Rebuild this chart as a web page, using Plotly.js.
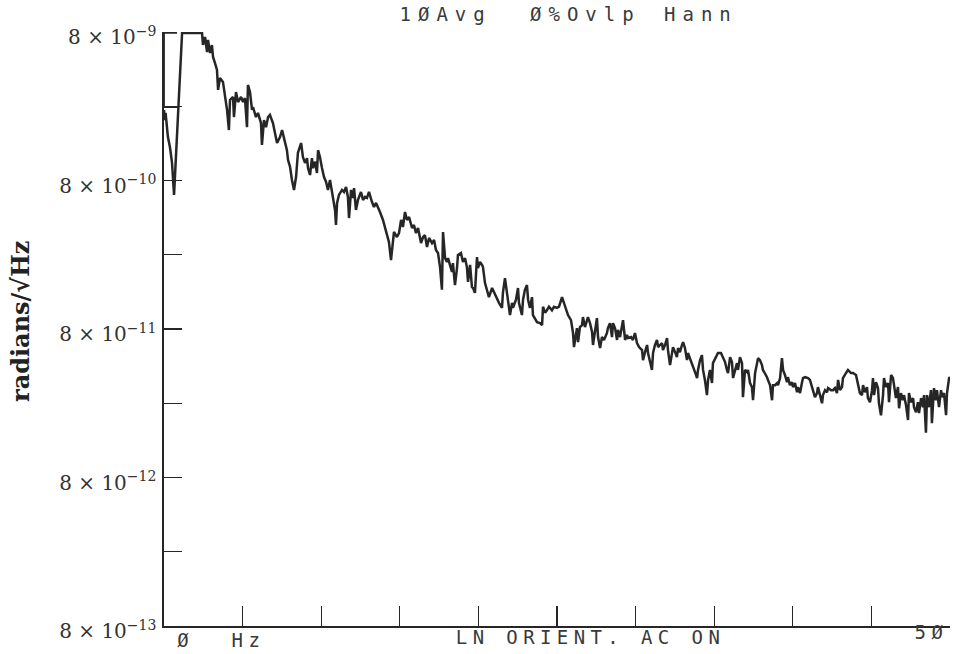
<!DOCTYPE html>
<html>
<head>
<meta charset="utf-8">
<script src="https://cdn.plot.ly/plotly-3.0.1.min.js"></script>
<style>
  html, body { margin: 0; padding: 0; background: #ffffff; }
  #chart { width: 956px; height: 654px; }
</style>
</head>
<body>
<div id="chart"></div>
<script>
// ---- data ----
// frequency, Hz
const freqHz = [
  0.00, 0.04, 0.10, 0.19, 0.25, 0.38, 0.51, 0.64, 1.15, 2.42,
  2.48, 2.61, 2.74, 2.80, 2.93, 3.05, 3.12, 3.24, 3.37, 3.44,
  3.56, 3.75, 3.88, 4.01, 4.13, 4.20, 4.39, 4.45, 4.58, 4.71,
  4.90, 5.03, 5.15, 5.28, 5.34, 5.47, 5.60, 5.66, 5.85, 5.98,
  6.17, 6.23, 6.36, 6.49, 6.62, 6.74, 6.93, 7.06, 7.19, 7.38,
  7.51, 7.63, 7.82, 7.89, 8.02, 8.14, 8.27, 8.40, 8.52, 8.72,
  8.84, 8.97, 9.10, 9.16, 9.29, 9.41, 9.48, 9.61, 9.73, 9.80,
  9.92, 10.05, 10.18, 10.31, 10.43, 10.56, 10.69, 10.75, 10.88, 10.94,
  11.01, 11.13, 11.32, 11.45, 11.58, 11.70, 11.77, 11.90, 12.02, 12.09,
  12.21, 12.34, 12.53, 12.66, 12.79, 12.91, 13.04, 13.23, 13.36, 13.49,
  13.61, 13.74, 13.93, 14.06, 14.19, 14.31, 14.44, 14.57, 14.63, 14.82,
  14.95, 15.08, 15.20, 15.33, 15.46, 15.59, 15.78, 15.90, 16.03, 16.16,
  16.35, 16.48, 16.60, 16.73, 16.86, 17.05, 17.18, 17.30, 17.43, 17.56,
  17.68, 17.75, 17.88, 18.00, 18.07, 18.19, 18.32, 18.38, 18.51, 18.64,
  18.70, 18.89, 19.02, 19.15, 19.27, 19.34, 19.47, 19.59, 19.66, 19.78,
  19.91, 19.97, 20.10, 20.23, 20.29, 20.42, 20.55, 20.67, 20.87, 20.99,
  21.18, 21.31, 21.50, 21.56, 21.69, 21.82, 21.88, 22.01, 22.14, 22.20,
  22.39, 22.52, 22.58, 22.77, 22.84, 22.96, 23.09, 23.16, 23.28, 23.41,
  23.47, 23.60, 23.73, 23.92, 24.05, 24.11, 24.24, 24.36, 24.49, 24.68,
  24.81, 25.00, 25.13, 25.32, 25.45, 25.57, 25.70, 25.89, 26.02, 26.08,
  26.27, 26.34, 26.46, 26.59, 26.65, 26.78, 26.91, 26.97, 27.10, 27.23,
  27.29, 27.42, 27.54, 27.61, 27.74, 27.86, 27.99, 28.18, 28.24, 28.37,
  28.50, 28.56, 28.69, 28.82, 28.88, 29.01, 29.13, 29.20, 29.33, 29.45,
  29.52, 29.71, 29.83, 29.96, 30.09, 30.22, 30.41, 30.47, 30.60, 30.73,
  30.79, 30.92, 31.04, 31.11, 31.23, 31.36, 31.43, 31.55, 31.68, 31.74,
  31.87, 32.00, 32.06, 32.19, 32.32, 32.38, 32.51, 32.63, 32.70, 32.82,
  32.95, 33.02, 33.14, 33.27, 33.33, 33.46, 33.65, 33.78, 33.91, 33.97,
  34.10, 34.22, 34.29, 34.41, 34.54, 34.61, 34.73, 34.86, 34.92, 35.11,
  35.24, 35.43, 35.56, 35.69, 35.81, 35.88, 36.01, 36.13, 36.20, 36.32,
  36.45, 36.51, 36.64, 36.77, 36.83, 36.96, 37.09, 37.15, 37.28, 37.40,
  37.47, 37.60, 37.72, 37.79, 37.91, 38.04, 38.10, 38.23, 38.36, 38.42,
  38.55, 38.68, 38.74, 38.87, 39.00, 39.06, 39.19, 39.31, 39.38, 39.50,
  39.63, 39.69, 39.82, 39.95, 40.01, 40.14, 40.27, 40.33, 40.46, 40.59,
  40.65, 40.78, 40.97, 41.09, 41.22, 41.28, 41.41, 41.54, 41.60, 41.73,
  41.86, 41.92, 42.05, 42.18, 42.24, 42.43, 42.56, 42.68, 42.81, 42.88,
  43.00, 43.13, 43.19, 43.38, 43.51, 43.70, 43.83, 44.02, 44.15, 44.27,
  44.40, 44.47, 44.59, 44.72, 44.78, 44.91, 45.04, 45.10, 45.17, 45.29,
  45.42, 45.48, 45.61, 45.74, 45.80, 45.93, 46.06, 46.12, 46.25, 46.37,
  46.44, 46.56, 46.69, 46.76, 46.88, 47.01, 47.07, 47.20, 47.33, 47.39,
  47.52, 47.65, 47.71, 47.84, 47.96, 48.03, 48.16, 48.28, 48.35, 48.47,
  48.54, 48.66, 48.79, 48.85, 48.98, 49.11, 49.17, 49.30, 49.43, 49.49,
  49.62, 49.75, 49.81, 49.94, 50.00
];
// spectral density, radians/sqrt(Hz)
const amplitude = [
  2.39e-9, 2.04e-9, 2.28e-9, 1.75e-9, 1.57e-9, 1.34e-9, 1.05e-9, 6.40e-10, 7.88e-9, 7.88e-9,
  6.54e-9, 7.40e-9, 5.86e-9, 7.07e-9, 5.77e-9, 6.54e-9, 5.43e-9, 4.95e-9, 4.44e-9, 3.26e-9,
  3.92e-9, 3.69e-9, 2.92e-9, 2.39e-9, 1.75e-9, 2.79e-9, 2.92e-9, 2.14e-9, 3.15e-9, 2.70e-9,
  2.92e-9, 2.70e-9, 2.87e-9, 1.83e-9, 3.52e-9, 3.15e-9, 2.39e-9, 2.50e-9, 2.14e-9, 2.28e-9,
  1.95e-9, 1.39e-9, 2.04e-9, 1.83e-9, 2.14e-9, 2.21e-9, 1.95e-9, 1.67e-9, 1.43e-9, 1.57e-9,
  1.75e-9, 1.55e-9, 1.28e-9, 1.10e-9, 9.86e-10, 8.06e-10, 6.91e-10, 8.44e-10, 1.23e-9, 1.43e-9,
  1.15e-9, 1.05e-9, 1.13e-9, 9.71e-10, 8.71e-10, 1.13e-9, 9.71e-10, 1.07e-9, 8.98e-10, 1.28e-9,
  1.15e-9, 9.71e-10, 8.44e-10, 7.82e-10, 6.91e-10, 8.06e-10, 6.70e-10, 6.20e-10, 5.07e-10, 4.01e-10,
  5.65e-10, 6.40e-10, 6.91e-10, 6.70e-10, 7.24e-10, 6.20e-10, 4.47e-10, 6.91e-10, 6.11e-10, 7.12e-10,
  5.07e-10, 5.92e-10, 6.70e-10, 5.92e-10, 6.20e-10, 6.11e-10, 6.70e-10, 5.73e-10, 5.31e-10, 5.65e-10,
  5.31e-10, 4.91e-10, 4.34e-10, 3.83e-10, 3.54e-10, 3.08e-10, 2.33e-10, 3.03e-10, 3.60e-10, 3.33e-10,
  3.54e-10, 4.34e-10, 3.89e-10, 4.91e-10, 4.34e-10, 4.54e-10, 3.83e-10, 4.01e-10, 3.54e-10, 3.83e-10,
  3.03e-10, 3.33e-10, 3.43e-10, 2.85e-10, 3.28e-10, 3.03e-10, 3.18e-10, 2.72e-10, 2.60e-10, 2.09e-10,
  1.47e-10, 3.60e-10, 2.40e-10, 2.26e-10, 2.40e-10, 2.16e-10, 1.94e-10, 2.22e-10, 1.58e-10, 2.06e-10,
  2.52e-10, 2.60e-10, 2.26e-10, 2.40e-10, 2.09e-10, 1.66e-10, 2.16e-10, 1.53e-10, 1.51e-10, 1.40e-10,
  2.44e-10, 2.06e-10, 2.26e-10, 2.16e-10, 2.09e-10, 1.63e-10, 1.42e-10, 1.31e-10, 1.51e-10, 1.42e-10,
  1.26e-10, 1.20e-10, 1.11e-10, 1.40e-10, 1.76e-10, 1.40e-10, 1.17e-10, 9.93e-11, 1.20e-10, 1.11e-10,
  1.26e-10, 1.51e-10, 1.20e-10, 9.93e-11, 1.26e-10, 1.47e-10, 1.58e-10, 1.26e-10, 1.11e-10, 1.31e-10,
  9.93e-11, 9.47e-11, 8.90e-11, 8.76e-11, 8.50e-11, 1.13e-10, 1.03e-10, 1.07e-10, 1.13e-10, 1.07e-10,
  1.13e-10, 1.11e-10, 1.13e-10, 1.31e-10, 1.20e-10, 1.07e-10, 9.93e-11, 9.18e-11, 7.52e-11, 6.04e-11,
  8.11e-11, 6.53e-11, 8.24e-11, 8.50e-11, 9.62e-11, 8.24e-11, 9.18e-11, 9.62e-11, 8.76e-11, 7.63e-11,
  6.24e-11, 8.11e-11, 9.47e-11, 7.06e-11, 5.95e-11, 7.06e-11, 6.75e-11, 7.52e-11, 8.11e-11, 8.76e-11,
  7.06e-11, 8.76e-11, 8.11e-11, 6.75e-11, 7.88e-11, 7.06e-11, 8.24e-11, 9.18e-11, 6.75e-11, 7.29e-11,
  6.96e-11, 7.06e-11, 6.75e-11, 7.52e-11, 6.43e-11, 6.04e-11, 5.77e-11, 4.94e-11, 5.59e-11, 6.24e-11,
  5.51e-11, 4.71e-11, 4.24e-11, 5.51e-11, 6.24e-11, 6.75e-11, 6.04e-11, 6.24e-11, 6.43e-11, 5.77e-11,
  6.24e-11, 6.96e-11, 5.77e-11, 4.57e-11, 5.51e-11, 6.04e-11, 5.59e-11, 5.17e-11, 5.95e-11, 5.59e-11,
  6.24e-11, 6.53e-11, 5.95e-11, 4.94e-11, 5.51e-11, 5.09e-11, 4.57e-11, 4.10e-11, 3.74e-11, 4.24e-11,
  4.94e-11, 5.34e-11, 4.24e-11, 3.63e-11, 2.87e-11, 3.63e-11, 4.24e-11, 3.46e-11, 4.71e-11, 5.17e-11,
  5.51e-11, 5.51e-11, 5.17e-11, 4.79e-11, 4.24e-11, 4.04e-11, 5.17e-11, 4.79e-11, 3.74e-11, 4.24e-11,
  4.71e-11, 4.24e-11, 5.17e-11, 4.71e-11, 2.78e-11, 4.24e-11, 4.10e-11, 4.24e-11, 3.46e-11, 3.25e-11,
  2.65e-11, 4.04e-11, 4.79e-11, 5.09e-11, 4.94e-11, 4.57e-11, 4.24e-11, 4.04e-11, 3.79e-11, 3.63e-11,
  3.35e-11, 2.65e-11, 3.35e-11, 3.35e-11, 3.46e-11, 3.35e-11, 3.74e-11, 5.09e-11, 4.24e-11, 3.92e-11,
  3.51e-11, 3.79e-11, 3.35e-11, 3.51e-11, 3.25e-11, 3.46e-11, 3.00e-11, 3.25e-11, 2.96e-11, 3.51e-11,
  3.74e-11, 3.79e-11, 3.74e-11, 3.63e-11, 3.25e-11, 3.10e-11, 2.78e-11, 2.96e-11, 3.25e-11, 2.87e-11,
  2.53e-11, 2.87e-11, 3.10e-11, 3.00e-11, 3.20e-11, 3.10e-11, 3.10e-11, 3.20e-11, 2.96e-11, 3.63e-11,
  3.10e-11, 3.25e-11, 3.74e-11, 4.04e-11, 4.24e-11, 4.04e-11, 4.04e-11, 3.92e-11, 3.46e-11, 2.96e-11,
  2.87e-11, 3.35e-11, 3.00e-11, 3.25e-11, 2.74e-11, 2.57e-11, 3.10e-11, 3.74e-11, 2.87e-11, 3.51e-11,
  3.20e-11, 2.53e-11, 2.10e-11, 2.87e-11, 3.74e-11, 3.25e-11, 3.46e-11, 2.57e-11, 3.92e-11, 3.74e-11,
  3.35e-11, 2.74e-11, 3.25e-11, 2.34e-11, 2.96e-11, 2.65e-11, 2.87e-11, 2.46e-11, 1.95e-11, 2.96e-11,
  2.57e-11, 2.74e-11, 2.38e-11, 2.20e-11, 2.57e-11, 2.17e-11, 2.74e-11, 2.38e-11, 2.87e-11, 1.60e-11,
  2.87e-11, 2.38e-11, 3.10e-11, 1.86e-11, 3.20e-11, 2.65e-11, 3.10e-11, 2.38e-11, 3.10e-11, 2.78e-11,
  2.96e-11, 2.10e-11, 2.96e-11, 3.74e-11, 3.79e-11
];
// overload box drawn by the analyzer at the start of the sweep
const boxHz  = [0.83, 0.00, 0.00, 0.89];
const boxAmp = [7.88e-9, 7.88e-9, 2.50e-9, 2.50e-9];

// axis ticks
const yMajorVals = [8e-13, 8e-12, 8e-11, 8e-10, 8e-9];
const yMajorText = ["8 × 10<sup>−13</sup>", "8 × 10<sup>−12</sup>", "8 × 10<sup>−11</sup>", "8 × 10<sup>−10</sup>", "8 × 10<sup>−9</sup>"];
const yMinorVals = [2.53e-12, 2.53e-11, 2.53e-10, 2.53e-9];
const xTickVals  = [5, 10, 15, 20, 25, 30, 35, 40, 45, 50];

// texts
const headerWords = ["1ØAvg", "Ø%Ovlp", "Hann"];
const footerLeft  = ["Ø", "Hz"];
const footerMid   = "LN ORIENT. AC ON";
const footerRight = "5Ø";
const yTitle      = "radians/√Hz";

// ---- build ----
const ink = "#262626";
const plotterFont = { family: "DejaVu Sans Mono", size: 19, color: "#3a3a3a" };

const traces = [
  { x: boxHz, y: boxAmp, type: "scatter", mode: "lines",
    line: { color: ink, width: 1.8 }, hoverinfo: "skip", showlegend: false },
  { x: freqHz, y: amplitude, type: "scatter", mode: "lines",
    line: { color: ink, width: 2.5 }, showlegend: false }
];

const L = 164, R = 6, T = 32, B = 28, W = 956, H = 654;
const pw = W - L - R, ph = H - T - B;
const px2paperX = p => (p - L) / pw;
const py2paperY = p => (H - B - p) / ph;

const annotations = [];
const headerX = [445, 585, 701];
headerWords.forEach((t, i) => annotations.push({
  text: t, xref: "paper", yref: "paper", x: px2paperX(headerX[i]), y: py2paperY(14),
  xanchor: "center", yanchor: "middle", showarrow: false, font: plotterFont, name: "plotter-wide"
}));
const footX = [186, 248];
footerLeft.forEach((t, i) => annotations.push({
  text: t, xref: "paper", yref: "paper", x: px2paperX(footX[i]), y: py2paperY(640),
  xanchor: "center", yanchor: "middle", showarrow: false, font: plotterFont, name: "plotter"
}));
annotations.push({
  text: footerMid, xref: "paper", yref: "paper", x: px2paperX(590), y: py2paperY(637),
  xanchor: "center", yanchor: "middle", showarrow: false, font: plotterFont, name: "plotter"
});
annotations.push({
  text: footerRight, xref: "paper", yref: "paper", x: px2paperX(931), y: py2paperY(632),
  xanchor: "center", yanchor: "middle", showarrow: false, font: plotterFont, name: "plotter"
});
annotations.push({
  text: "<b>" + yTitle + "</b>", xref: "paper", yref: "paper", x: px2paperX(20), y: py2paperY(322),
  xanchor: "center", yanchor: "middle", textangle: -90, showarrow: false,
  font: { family: "DejaVu Serif", size: 24, color: "#222" }
});

const layout = {
  width: W, height: H,
  margin: { l: L, r: R, t: T, b: B, pad: 0 },
  paper_bgcolor: "#ffffff", plot_bgcolor: "#ffffff",
  showlegend: false,
  xaxis: {
    range: [0, 50], showgrid: false, zeroline: false,
    showline: true, linecolor: ink, linewidth: 1.6,
    tickmode: "array", tickvals: xTickVals, ticks: "inside", ticklen: 20,
    tickwidth: 1.4, tickcolor: ink, showticklabels: false, fixedrange: true
  },
  yaxis: {
    type: "log", range: [Math.log10(8e-13), Math.log10(8e-9)],
    showgrid: false, zeroline: false,
    showline: true, linecolor: ink, linewidth: 1.6,
    tickmode: "array", tickvals: yMajorVals, ticktext: yMajorText,
    ticks: "inside", ticklen: 18, tickwidth: 1.4, tickcolor: ink,
    minor: { tickmode: "array", tickvals: yMinorVals, ticks: "inside", ticklen: 18,
             tickwidth: 1.4, tickcolor: ink, showgrid: false },
    ticklabelshift: 5, ticklabelstandoff: 2,
    tickfont: { family: "DejaVu Serif", size: 20, color: "#333" }, fixedrange: true
  },
  annotations: annotations
};

Plotly.newPlot("chart", traces, layout, { displayModeBar: false, staticPlot: true }).then(gd => {
  const groups = gd.querySelectorAll(".annotation");
  gd._fullLayout.annotations.forEach((a, i) => {
    const g = groups[i];
    if (!g) return;
    const t = g.querySelector("text");
    if (!t) return;
    if (a.name === "plotter-wide") t.style.letterSpacing = "7px";
    else if (a.name === "plotter") t.style.letterSpacing = "5.4px";
  });
});
</script>
</body>
</html>
